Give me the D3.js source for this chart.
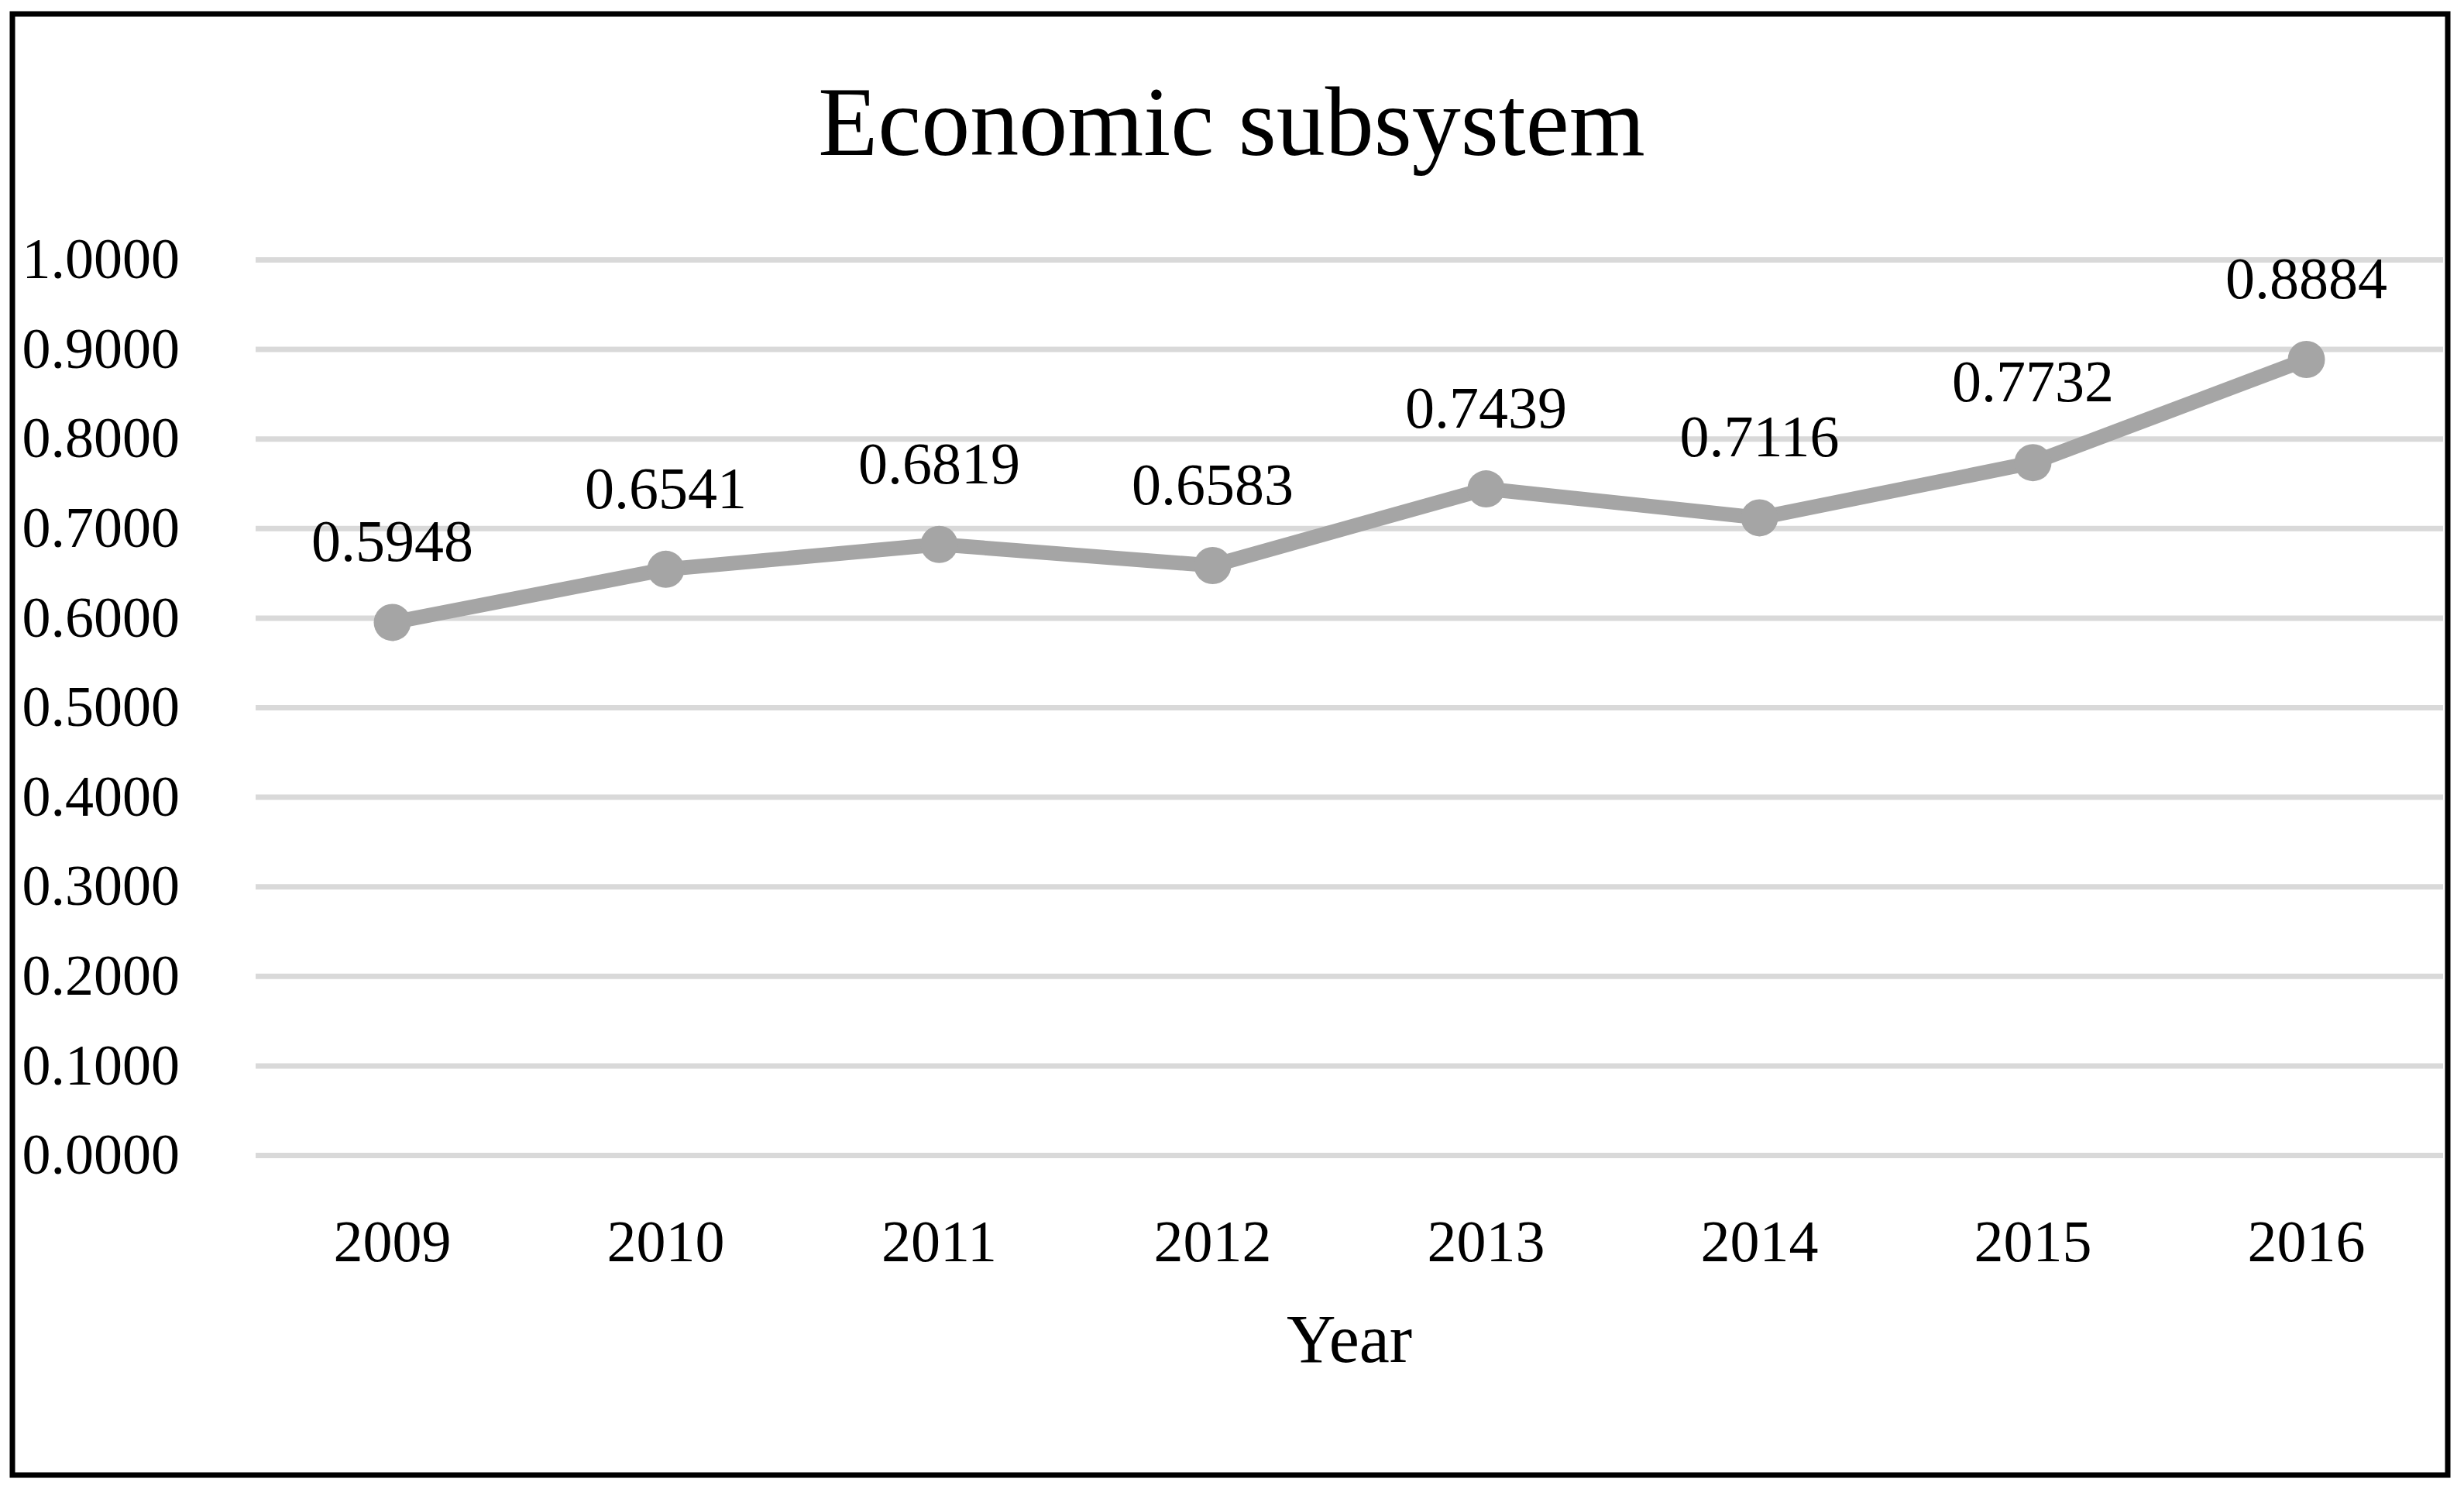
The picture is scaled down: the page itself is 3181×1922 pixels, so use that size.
<!DOCTYPE html>
<html>
<head>
<meta charset="utf-8">
<script src="https://cdn.jsdelivr.net/npm/d3@7"></script>
<style>
  html, body { margin: 0; padding: 0; background: #ffffff; }
  svg { display: block; }
  text { font-family: "Liberation Serif", "Times New Roman", serif; fill: #000; }
</style>
</head>
<body>
<script>
// ---- data ----
const title = "Economic subsystem";
const xAxisTitle = "Year";
const years = ["2009", "2010", "2011", "2012", "2013", "2014", "2015", "2016"];
const values = [0.5948, 0.6541, 0.6819, 0.6583, 0.7439, 0.7116, 0.7732, 0.8884];
const yTicks = [0, 0.1, 0.2, 0.3, 0.4, 0.5, 0.6, 0.7, 0.8, 0.9, 1.0];

// ---- layout ----
const W = 3181, H = 1922;
const plot = { left: 330, right: 3154, top: 335, bottom: 1491 };
const lineColor = "#a5a5a5";
const gridColor = "#d9d9d9";

const svg = d3.select("body").append("svg")
  .attr("width", W).attr("height", H);

svg.append("rect").attr("width", W).attr("height", H).attr("fill", "#fff");

// outer border
svg.append("rect")
  .attr("x", 16).attr("y", 18)
  .attr("width", 3160 - 16).attr("height", 1904 - 18)
  .attr("fill", "none").attr("stroke", "#000").attr("stroke-width", 7);

const x = d3.scaleBand().domain(years).range([plot.left, plot.right]).padding(0);
const y = d3.scaleLinear().domain([0, 1]).range([plot.bottom, plot.top]);
const cx = d => x(d) + x.bandwidth() / 2;

// title
svg.append("text")
  .attr("x", 1590).attr("y", 200)
  .attr("text-anchor", "middle")
  .attr("font-size", 126)
  .text(title);

// y axis with gridlines
const yAxis = svg.append("g")
  .attr("transform", `translate(${plot.left},0)`)
  .call(d3.axisLeft(y)
    .tickValues(yTicks)
    .tickFormat(d3.format(".4f"))
    .tickSize(-(plot.right - plot.left))
    .tickPadding(98));
yAxis.select(".domain").remove();
yAxis.selectAll(".tick line")
  .attr("stroke", gridColor).attr("stroke-width", 7);
yAxis.selectAll(".tick text")
  .attr("font-size", 74)
  .attr("font-family", "Liberation Serif, Times New Roman, serif")
  .attr("fill", "#000")
  .attr("dy", "0.32em");

// x axis
const xAxis = svg.append("g")
  .attr("transform", `translate(0,${plot.bottom})`)
  .call(d3.axisBottom(x).tickSize(0).tickPadding(83));
xAxis.select(".domain").remove();
xAxis.selectAll(".tick text")
  .attr("font-size", 76)
  .attr("font-family", "Liberation Serif, Times New Roman, serif")
  .attr("fill", "#000");

// x axis title
svg.append("text")
  .attr("x", (plot.left + plot.right) / 2).attr("y", 1758)
  .attr("text-anchor", "middle")
  .attr("font-size", 88)
  .text(xAxisTitle);

// line
const data = years.map((yr, i) => ({ year: yr, value: values[i] }));
const line = d3.line().x(d => cx(d.year)).y(d => y(d.value));
svg.append("path")
  .datum(data)
  .attr("d", line)
  .attr("fill", "none")
  .attr("stroke", lineColor)
  .attr("stroke-width", 19)
  .attr("stroke-linejoin", "round");

// markers
svg.selectAll("circle.pt")
  .data(data).enter().append("circle")
  .attr("class", "pt")
  .attr("cx", d => cx(d.year))
  .attr("cy", d => y(d.value))
  .attr("r", 24)
  .attr("fill", lineColor);

// data labels
svg.selectAll("text.lbl")
  .data(data).enter().append("text")
  .attr("class", "lbl")
  .attr("x", d => cx(d.year))
  .attr("y", d => y(d.value) - 79)
  .attr("text-anchor", "middle")
  .attr("font-size", 76)
  .text(d => d3.format(".4f")(d.value));
</script>
</body>
</html>
